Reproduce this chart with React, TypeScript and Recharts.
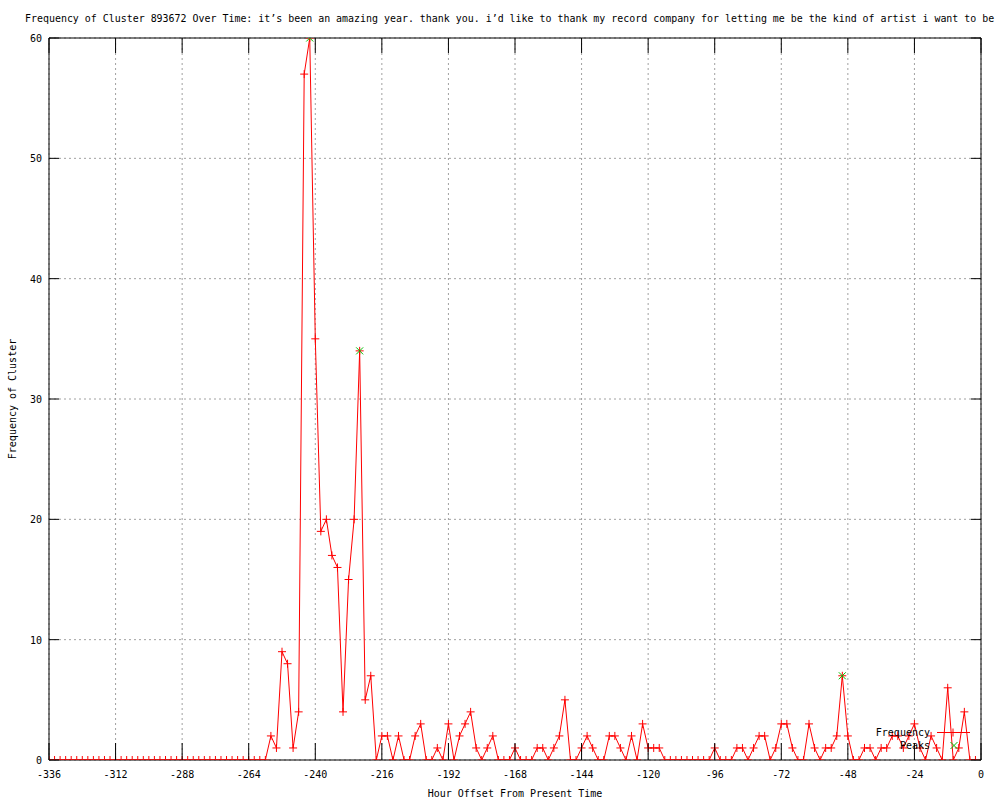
import React from 'react';
import { ComposedChart, Line, XAxis, YAxis, CartesianGrid, Legend } from 'recharts';

const hours: number[] = [
  -336, -334, -332, -330, -328, -326, -324, -322, -320, -318, -316, -314, -312, -310, -308, -306, -304, -302, -300, -298,
  -296, -294, -292, -290, -288, -286, -284, -282, -280, -278, -276, -274, -272, -270, -268, -266, -264, -262, -260, -258,
  -256, -254, -252, -250, -248, -246, -244, -242, -240, -238, -236, -234, -232, -230, -228, -226, -224, -222, -220, -218,
  -216, -214, -212, -210, -208, -206, -204, -202, -200, -198, -196, -194, -192, -190, -188, -186, -184, -182, -180, -178,
  -176, -174, -172, -170, -168, -166, -164, -162, -160, -158, -156, -154, -152, -150, -148, -146, -144, -142, -140, -138,
  -136, -134, -132, -130, -128, -126, -124, -122, -120, -118, -116, -114, -112, -110, -108, -106, -104, -102, -100, -98,
  -96, -94, -92, -90, -88, -86, -84, -82, -80, -78, -76, -74, -72, -70, -68, -66, -64, -62, -60, -58,
  -56, -54, -52, -50, -48, -46, -44, -42, -40, -38, -36, -34, -32, -30, -28, -26, -24, -22, -20, -18,
  -16, -14, -12, -10, -8, -6, -4, -2,
];

const frequency: number[] = [
  0, 0, 0, 0, 0, 0, 0, 0, 0, 0, 0, 0, 0, 0, 0, 0, 0, 0, 0, 0,
  0, 0, 0, 0, 0, 0, 0, 0, 0, 0, 0, 0, 0, 0, 0, 0, 0, 0, 0, 0,
  2, 1, 9, 8, 1, 4, 57, 60, 35, 19, 20, 17, 16, 4, 15, 20, 34, 5, 7, 0,
  2, 2, 0, 2, 0, 0, 2, 3, 0, 0, 1, 0, 3, 0, 2, 3, 4, 1, 0, 1,
  2, 0, 0, 0, 1, 0, 0, 0, 1, 1, 0, 1, 2, 5, 0, 0, 1, 2, 1, 0,
  0, 2, 2, 1, 0, 2, 0, 3, 1, 1, 1, 0, 0, 0, 0, 0, 0, 0, 0, 0,
  1, 0, 0, 0, 1, 1, 0, 1, 2, 2, 0, 1, 3, 3, 1, 0, 0, 3, 1, 0,
  1, 1, 2, 7, 2, 0, 0, 1, 1, 0, 1, 1, 2, 2, 1, 2, 3, 1, 0, 2,
  1, 0, 6, 0, 1, 4, 0, 0,
];

const peakHours: number[] = [-242, -224, -50];
const peakValues: number[] = [60, 34, 7];

const xTicks: number[] = [-336, -312, -288, -264, -240, -216, -192, -168, -144, -120, -96, -72, -48, -24, 0];
const yTicks: number[] = [0, 10, 20, 30, 40, 50, 60];

const titleText =
  'Frequency of Cluster 893672 Over Time: it’s been an amazing year. thank you. i’d like to thank my record company for letting me be the kind of artist i want to be';
const xLabelText = 'Hour Offset From Present Time';
const yLabelText = 'Frequency of Cluster';
const seriesName = 'Frequency';
const peaksName = 'Peaks';

const RED = '#ff0000';
const GREEN = '#00c000';
const FONT = "'DejaVu Sans Mono', monospace";

const freqData = hours.map((h, i) => ({ hour: h, freq: frequency[i] }));
const peakData = peakHours.map((h, i) => ({ hour: h, peak: peakValues[i] }));

const BottomTick = (props: any) => {
  const { x, y, payload } = props;
  return (
    <g>
      <line x1={x} y1={y} x2={x} y2={y - 17} stroke="#000" strokeWidth={1} />
      <text x={x} y={y + 18} textAnchor="middle" fontFamily={FONT} fontSize={10} fill="#000">
        {payload.value}
      </text>
    </g>
  );
};

const TopTick = (props: any) => {
  const { x, y } = props;
  return <line x1={x} y1={y} x2={x} y2={y + 15} stroke="#000" strokeWidth={1} />;
};

const LeftTick = (props: any) => {
  const { x, y, payload } = props;
  return (
    <g>
      <line x1={x} y1={y} x2={x + 10} y2={y} stroke="#000" strokeWidth={1} />
      <text x={x - 7} y={y + 4} textAnchor="end" fontFamily={FONT} fontSize={10} fill="#000">
        {payload.value}
      </text>
    </g>
  );
};

const RightTick = (props: any) => {
  const { x, y } = props;
  return <line x1={x} y1={y} x2={x - 10} y2={y} stroke="#000" strokeWidth={1} />;
};

const PlusDot = (props: any) => {
  const { cx, cy, index } = props;
  if (cx == null || cy == null) return <g key={`pd${index}`} />;
  return (
    <path
      key={`pd${index}`}
      d={`M${cx - 4},${cy}H${cx + 4}M${cx},${cy - 4}V${cy + 4}`}
      stroke={RED}
      strokeWidth={1}
      fill="none"
    />
  );
};

const CrossDot = (props: any) => {
  const { cx, cy, index } = props;
  if (cx == null || cy == null) return <g key={`cd${index}`} />;
  return (
    <path
      key={`cd${index}`}
      d={`M${cx - 3.5},${cy - 3.5}L${cx + 3.5},${cy + 3.5}M${cx - 3.5},${cy + 3.5}L${cx + 3.5},${cy - 3.5}`}
      stroke={GREEN}
      strokeWidth={1}
      fill="none"
    />
  );
};

const TitleLabel = () => (
  <text x={25} y={22} textAnchor="start" fontFamily={FONT} fontSize={9.95} fill="#000">
    {titleText}
  </text>
);

const XLabel = (props: any) => {
  const vb = props.viewBox || {};
  return (
    <text x={vb.x + vb.width / 2} y={vb.y + 37} textAnchor="middle" fontFamily={FONT} fontSize={10} fill="#000">
      {xLabelText}
    </text>
  );
};

const YLabel = (props: any) => {
  const vb = props.viewBox || {};
  const cy = vb.y + vb.height / 2;
  return (
    <text
      x={16}
      y={cy}
      transform={`rotate(-90, 16, ${cy})`}
      textAnchor="middle"
      fontFamily={FONT}
      fontSize={10}
      fill="#000"
    >
      {yLabelText}
    </text>
  );
};

const renderLegend = () => (
  <svg width={130} height={32} style={{ display: 'block', overflow: 'visible' }}>
    <text x={70} y={14} textAnchor="end" fontFamily={FONT} fontSize={10} fill="#000">
      {seriesName}
    </text>
    <line x1={77} y1={10.5} x2={110} y2={10.5} stroke={RED} strokeWidth={1} />
    <path d="M89,10.5H97M93,6.5V14.5" stroke={RED} strokeWidth={1} fill="none" />
    <text x={70} y={27} textAnchor="end" fontFamily={FONT} fontSize={10} fill="#000">
      {peaksName}
    </text>
    <path d="M90.5,20L97.5,27M90.5,27L97.5,20" stroke={GREEN} strokeWidth={1} fill="none" />
  </svg>
);

export default function App() {
  return (
    <div style={{ position: 'absolute', left: 0, top: 0, width: 1000, height: 800, background: '#fff' }}>
      <ComposedChart width={1000} height={800} data={freqData} margin={{ top: 0, right: 0, bottom: 0, left: 0 }}>
        <CartesianGrid stroke="#a0a0a0" strokeDasharray="2 3" />
        <XAxis
          dataKey="hour"
          type="number"
          domain={[-336, 0]}
          ticks={xTicks}
          interval={0}
          allowDataOverflow
          height={40}
          tickSize={0}
          tickMargin={0}
          tickLine={false}
          axisLine={{ stroke: '#000' }}
          tick={BottomTick}
          label={XLabel}
        />
        <XAxis
          xAxisId="top"
          orientation="top"
          dataKey="hour"
          type="number"
          domain={[-336, 0]}
          ticks={xTicks}
          interval={0}
          allowDataOverflow
          height={38}
          tickSize={0}
          tickMargin={0}
          tickLine={false}
          axisLine={{ stroke: '#000' }}
          tick={TopTick}
          label={TitleLabel}
        />
        <YAxis
          type="number"
          domain={[0, 60]}
          ticks={yTicks}
          interval={0}
          allowDataOverflow
          width={49}
          tickSize={0}
          tickMargin={0}
          tickLine={false}
          axisLine={{ stroke: '#000' }}
          tick={LeftTick}
          label={YLabel}
        />
        <YAxis
          yAxisId="right"
          orientation="right"
          type="number"
          domain={[0, 60]}
          ticks={yTicks}
          interval={0}
          allowDataOverflow
          width={19}
          tickSize={0}
          tickMargin={0}
          tickLine={false}
          axisLine={{ stroke: '#000' }}
          tick={RightTick}
        />
        <Line
          name={seriesName}
          dataKey="freq"
          type="linear"
          stroke={RED}
          strokeWidth={1}
          dot={PlusDot}
          activeDot={false}
          isAnimationActive={false}
        />
        <Line
          name={peaksName}
          data={peakData}
          dataKey="peak"
          type="linear"
          stroke="none"
          dot={CrossDot}
          activeDot={false}
          isAnimationActive={false}
        />
        <Legend
          layout="vertical"
          align="center"
          verticalAlign="middle"
          content={renderLegend}
          wrapperStyle={{ position: 'absolute', left: 860, top: 722, width: 130, height: 32, margin: 0, padding: 0 }}
        />
      </ComposedChart>
    </div>
  );
}
